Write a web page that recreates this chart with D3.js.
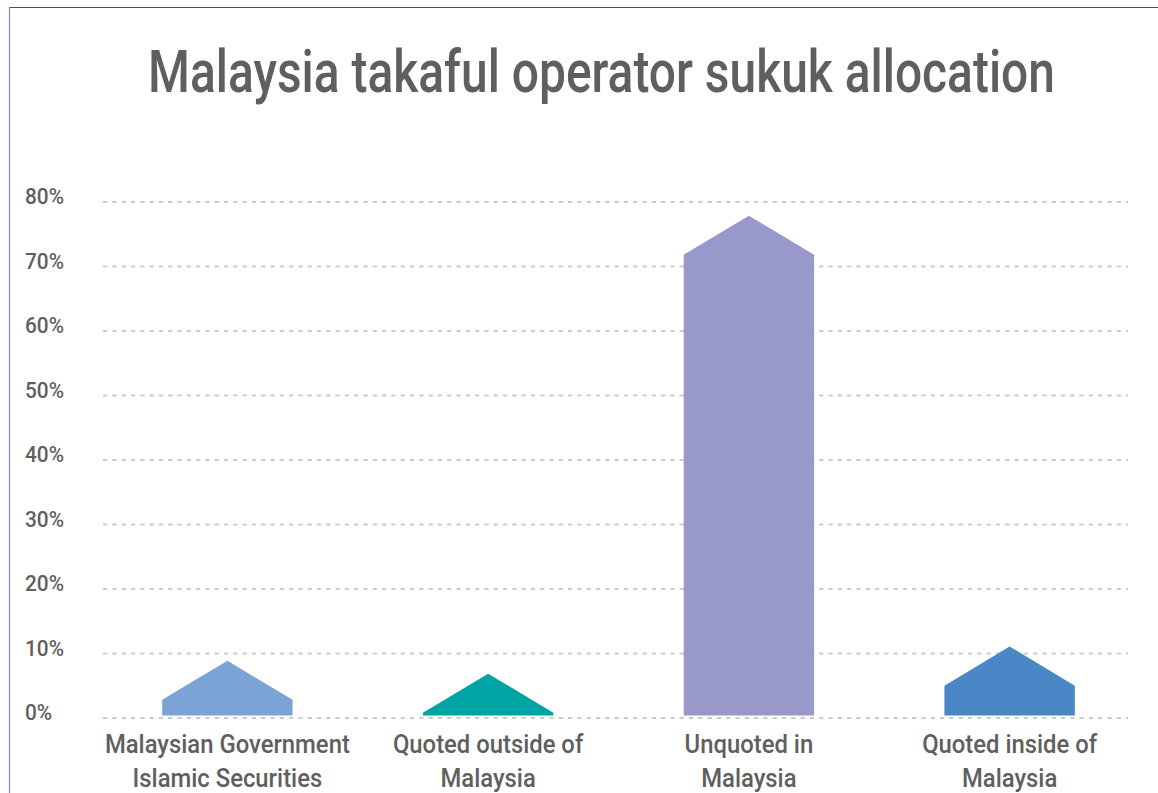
<!DOCTYPE html>
<html>
<head>
<meta charset="utf-8">
<script src="https://cdn.jsdelivr.net/npm/d3@7"></script>
<style>
  body { margin: 0; background: #fff; }
  text { font-family: Roboto, "Liberation Sans", sans-serif; font-weight: 500; fill: #5f5f5f; }
</style>
</head>
<body>
<script>
// chart data
var categories = [
  ["Malaysian Government", "Islamic Securities"],
  ["Quoted outside of", "Malaysia"],
  ["Unquoted in", "Malaysia"],
  ["Quoted inside of", "Malaysia"]
];
var shares = [8.8, 6.8, 77.8, 11.0];   // % at arrow tip
var colors = ["#7ba3d6", "#00a5a3", "#9898ca", "#4a87c6"];
var yTicks = [0, 10, 20, 30, 40, 50, 60, 70, 80];

var W = 1158, H = 793;

var svg = d3.select("body").append("svg")
    .attr("width", W)
    .attr("height", H);

// natural width of a string, used to squeeze text into a condensed look
function textWidth(str, size) {
  var t = svg.append("text").style("font-size", size + "px").text(str);
  var w = t.node().getComputedTextLength();
  t.remove();
  return w;
}

// frame
svg.append("line").attr("x1", 9).attr("x2", W).attr("y1", 7.5).attr("y2", 7.5)
    .attr("stroke", "#3d4c8a").attr("stroke-width", 1.2);
svg.append("line").attr("x1", 9.5).attr("x2", 9.5).attr("y1", 7).attr("y2", H)
    .attr("stroke", "#7b8acb").attr("stroke-width", 1.2);

// title
var titleText = "Malaysia takaful operator sukuk allocation";
var kTitle = 907 / textWidth(titleText, 59);
svg.append("text")
    .attr("transform", "translate(601.5,92) scale(" + kTitle + ",1)")
    .attr("text-anchor", "middle")
    .style("font-size", "59px")
    .text(titleText);

// scales
var y = d3.scaleLinear()
    .domain([0, 80])
    .range([717.5, 201.5]);

var x = d3.scaleBand()
    .domain(d3.range(categories.length))
    .range([97, 1140])
    .paddingInner(0.5)
    .paddingOuter(0.25);

// y axis with dotted grid
var gridLeft = 103, gridRight = 1128;
var kTick = 39 / textWidth("80%", 22.5);
var yAxis = svg.append("g")
    .attr("transform", "translate(" + gridLeft + ",0)")
    .call(d3.axisLeft(y)
      .tickValues(yTicks)
      .tickSize(-(gridRight - gridLeft))
      .tickFormat(function(d) { return d + "%"; }));

yAxis.select(".domain").remove();
yAxis.selectAll(".tick line")
    .attr("stroke", "#cccccc")
    .attr("stroke-width", 2)
    .attr("stroke-dasharray", "4.3,5");
yAxis.selectAll(".tick text")
    .attr("x", 0)
    .attr("dy", 0)
    .attr("transform", "translate(" + (25 - gridLeft) + ",2) scale(" + kTick + ",1)")
    .attr("text-anchor", "start")
    .style("font-size", "22.5px")
    .style("fill", "#5f5f5f");

// arrow bars
var headH = x.bandwidth() * 0.3;
var baseGap = 2;

svg.selectAll(".bar")
    .data(shares)
  .enter().append("path")
    .attr("class", "bar")
    .attr("fill", function(d, i) { return colors[i]; })
    .attr("d", function(d, i) {
      var x0 = x(i), x1 = x(i) + x.bandwidth(), xm = x(i) + x.bandwidth() / 2;
      var tip = y(d), base = y(0) - baseGap;
      var shoulder = Math.min(tip + headH, base);
      return "M" + x0 + "," + base +
             "L" + x0 + "," + shoulder +
             "L" + xm + "," + tip +
             "L" + x1 + "," + shoulder +
             "L" + x1 + "," + base + "Z";
    });

// category labels
var kCat = 245 / textWidth("Malaysian Government", 26);
var labels = svg.selectAll(".cat")
    .data(categories)
  .enter().append("text")
    .attr("class", "cat")
    .attr("text-anchor", "middle")
    .attr("transform", function(d, i) {
      return "translate(" + (x(i) + x.bandwidth() / 2) + ",753) scale(" + kCat + ",1)";
    })
    .style("font-size", "26px");

labels.selectAll("tspan")
    .data(function(d) { return d; })
  .enter().append("tspan")
    .attr("x", 0)
    .attr("dy", function(d, j) { return j === 0 ? 0 : 34; })
    .text(function(d) { return d; });
</script>
</body>
</html>
